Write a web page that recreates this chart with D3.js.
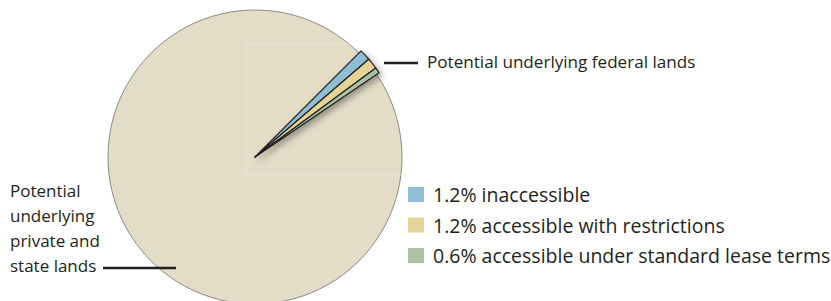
<!DOCTYPE html>
<html>
<head>
<meta charset="utf-8">
<script src="https://cdn.jsdelivr.net/npm/d3@7"></script>
<style>
  body { margin: 0; background: #fff; }
  text { font-family: "Open Sans", Lato, sans-serif; fill: #231f20; }
</style>
</head>
<body>
<div id="container"></div>
<script>
const labels = ['1.2% inaccessible', '1.2% accessible with restrictions', '0.6% accessible under standard lease terms', 'Potential underlying private and state lands'];
const values = [1.2, 1.2, 0.6, 97];
const colors = ['#8fbfd6', '#e5d496', '#abc3a2', '#e3dcc7'];
const startAngle = Math.PI / 4; // federal slices begin at 45 degrees

const width = 831, height = 301;
const cx = 255, cy = 157, r = 147;

const svg = d3.select('#container')
    .append('svg')
    .attr('width', width)
    .attr('height', height);

const defs = svg.append('defs');
const shadow = defs.append('filter')
    .attr('id', 'shadow')
    .attr('x', '-50%').attr('y', '-50%')
    .attr('width', '200%').attr('height', '200%');
shadow.append('feDropShadow')
    .attr('dx', 3).attr('dy', 3)
    .attr('stdDeviation', 3)
    .attr('flood-color', '#000')
    .attr('flood-opacity', 0.35);
defs.append('clipPath').attr('id', 'pieclip')
    .append('circle').attr('r', r);

const pie = d3.pie()
    .sort(null)
    .startAngle(startAngle)
    .endAngle(startAngle + 2 * Math.PI)
    .value(d => d);
const arcs = pie(values);

const g = svg.append('g').attr('transform', `translate(${cx},${cy})`);

// big slice first
g.append('path')
    .attr('d', d3.arc().innerRadius(0).outerRadius(r)(arcs[3]))
    .attr('fill', colors[3])
    .attr('stroke', '#8a8a86')
    .attr('stroke-width', 1);

// faint inner guide box
g.append('rect')
    .attr('clip-path', 'url(#pieclip)')
    .attr('x', -9).attr('y', -113)
    .attr('width', 160).attr('height', 131)
    .attr('fill', 'none')
    .attr('stroke', '#ebe5d5')
    .attr('stroke-width', 1);

const small = g.append('g').attr('filter', 'url(#shadow)');
small.selectAll('path')
    .data(arcs.slice(0, 3))
    .enter()
    .append('path')
    .attr('d', d3.arc().innerRadius(0).outerRadius(r + 3))
    .attr('fill', (_, i) => colors[i])
    .attr('stroke', '#231f20')
    .attr('stroke-width', 1.2)
    .attr('stroke-linejoin', 'round');

// federal label
svg.append('line')
    .attr('x1', 384).attr('x2', 418)
    .attr('y1', 63).attr('y2', 63)
    .attr('stroke', '#231f20').attr('stroke-width', 2.5);
svg.append('text')
    .attr('x', 427).attr('y', 68)
    .attr('font-size', 17.1)
    .text('Potential underlying federal lands');

// private / state label
const left = svg.append('text').attr('font-size', 17);
['Potential', 'underlying', 'private and', 'state lands'].forEach((t, i) => {
    left.append('tspan').attr('x', 10).attr('y', 197 + i * 25).text(t);
});
svg.append('line')
    .attr('x1', 103).attr('x2', 176)
    .attr('y1', 268).attr('y2', 268)
    .attr('stroke', '#231f20').attr('stroke-width', 2.5);

// legend
const legend = svg.append('g')
    .selectAll('g')
    .data(labels.slice(0, 3))
    .enter()
    .append('g')
    .attr('transform', (_, i) => `translate(408,${187 + i * 30.5})`);
legend.append('rect')
    .attr('width', 16).attr('height', 15)
    .attr('fill', (_, i) => colors[i]);
legend.append('text')
    .attr('x', 25).attr('y', 15)
    .attr('font-size', 19.5)
    .text(d => d);
</script>
</body>
</html>
